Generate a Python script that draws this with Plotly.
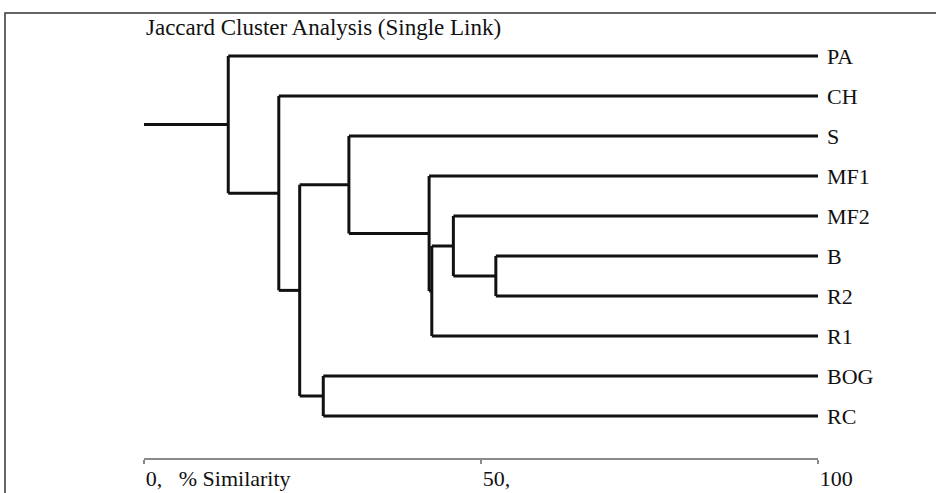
import plotly.graph_objects as go

# ---- data ----
leaves = ["PA", "CH", "S", "MF1", "MF2", "B", "R2", "R1", "BOG", "RC"]
# merges: node name, children, % similarity at which they join
merge_names = ["G", "F", "E1", "E2", "D", "H", "C", "Bn", "A"]
merge_children = [["B", "R2"], ["MF2", "G"], ["F", "R1"], ["MF1", "E1"],
                  ["S", "E2"], ["BOG", "RC"], ["D", "H"], ["CH", "C"], ["PA", "Bn"]]
merge_similarity = [52.2, 45.9, 42.7, 42.3, 30.4, 26.6, 23.1, 20.0, 12.5]
root_start = 0.0
tick_vals = [0, 50, 100]
tick_text = ["0,\u00a0\u00a0\u00a0% Similarity", "50,", "100"]
title_text = "Jaccard Cluster Analysis (Single Link)"

# ---- build dendrogram coordinates ----
pos = {name: (100.0, float(i)) for i, name in enumerate(leaves)}  # (x, stem y)
xs, ys = [], []
for name, kids, sim in zip(merge_names, merge_children, merge_similarity):
    kid_y = [pos[k][1] for k in kids]
    for k in kids:
        kx, ky = pos[k]
        xs += [sim, kx, None]
        ys += [ky, ky, None]
    xs += [sim, sim, None]
    ys += [min(kid_y), max(kid_y), None]
    pos[name] = (sim, (min(kid_y) + max(kid_y)) / 2.0)
root_x, root_y = pos[merge_names[-1]]
xs += [root_start, root_x, None]
ys += [root_y, root_y, None]

font_family = "Liberation Serif"
text_color = "#111111"

fig = go.Figure()
fig.add_trace(go.Scatter(x=xs, y=ys, mode="lines",
                         line=dict(color="#111111", width=3),
                         hoverinfo="skip", showlegend=False))

W, H = 936, 493
ml, mr, mt, mb = 144, 118, 13, 35
fig.update_layout(
    width=W, height=H,
    margin=dict(l=ml, r=mr, t=mt, b=mb, autoexpand=False),
    paper_bgcolor="white", plot_bgcolor="white",
    font=dict(family=font_family, color=text_color, size=23),
    title=dict(text=title_text, x=146 / W, xanchor="left", xref="container",
               y=1 - 27 / H, yanchor="middle", yref="container",
               font=dict(family=font_family, size=23, color=text_color)),
    xaxis=dict(range=[0, 100], tickvals=tick_vals, ticktext=tick_text,
               ticklabelposition="outside right", showline=True,
               linecolor="#8a8a8a", linewidth=2, ticks="outside", ticklen=4,
               tickcolor="#8a8a8a", tickwidth=1.5, showgrid=False, zeroline=False,
               ticklabelstandoff=0, automargin=False,
               tickfont=dict(family=font_family, size=22, color=text_color),
               fixedrange=True),
    yaxis=dict(range=[10.05, -1.075], tickvals=list(range(len(leaves))),
               ticktext=leaves, side="right", showline=False, ticks="",
               ticklabelstandoff=8, showgrid=False, zeroline=False,
               automargin=False,
               tickfont=dict(family=font_family, size=22, color=text_color),
               fixedrange=True),
    shapes=[dict(type="rect", xref="paper", yref="paper",
                 x0=(5 - ml) / (W - ml - mr), x1=1.3, y0=-0.3, y1=1.0,
                 line=dict(color="#333333", width=1.5), layer="below")],
)

fig.write_html("out.html", config={"displayModeBar": False},
               post_script="document.body.style.margin='0';document.body.style.overflow='hidden';")
